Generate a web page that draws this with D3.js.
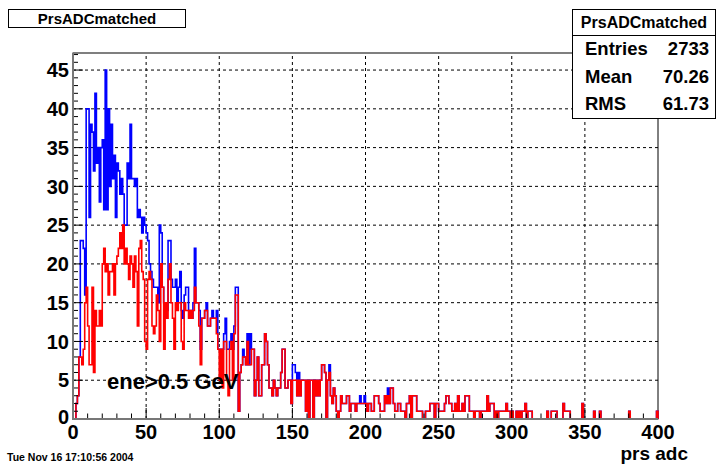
<!DOCTYPE html>
<html>
<head>
<meta charset="utf-8">
<script src="https://cdn.jsdelivr.net/npm/d3@7/dist/d3.min.js"></script>
<style>
  body { margin: 0; background: #fff; }
  svg { display: block; }
  text { font-family: "Liberation Sans", Arial, Helvetica, sans-serif; font-weight: bold; fill: #000; }
</style>
</head>
<body>
<svg id="chart" width="717" height="464"></svg>
<script>
// Histogram PrsADCmatched: 400 bins of width 1 on [0, 400]
const histName = "PrsADCmatched";
const xTitle = "prs adc";
const cutLabel = "ene>0.5 GeV";
const dateStamp = "Tue Nov 16 17:10:56 2004";
const statLabels = ["Entries", "Mean", "RMS"];
const statValues = ["2733", "70.26", "61.73"];
const xTickValues = [0, 50, 100, 150, 200, 250, 300, 350, 400];
const yTickValues = [0, 5, 10, 15, 20, 25, 30, 35, 40, 45];
const xRange = [0, 400];
const yMax = 47.2;

// all matched hits (blue)
const allCounts = [
  0,0,2,3,8,23,23,22,16,40,
  40,26,38,37,32,42,33,35,28,35,
  36,27,45,27,40,30,38,31,34,26,
  33,32,29,31,29,25,25,33,31,38,
  31,31,30,31,26,27,26,24,26,25,
  24,23,20,19,18,17,17,17,15,25,
  24,17,15,15,14,23,23,18,17,17,
  18,15,17,19,14,13,16,17,17,14,
  14,13,15,22,15,15,14,9,13,13,
  14,15,12,12,13,14,13,13,14,9,
  9,9,9,11,13,9,9,10,11,9,
  12,17,17,1,6,7,9,8,7,11,
  7,11,9,9,3,5,8,3,3,7,
  7,11,10,7,4,4,3,5,4,3,
  4,4,6,9,9,4,4,5,5,2,
  7,7,6,3,6,3,5,5,5,1,
  5,0,5,5,0,5,3,5,3,5,
  7,7,6,0,5,7,3,2,4,3,
  1,0,1,3,2,2,2,3,3,1,
  2,2,2,1,2,2,3,2,2,3,
  2,1,2,2,1,1,3,3,3,2,
  1,1,1,3,2,4,2,4,4,2,
  1,1,2,2,1,1,1,0,2,2,
  3,0,3,3,3,1,1,1,1,0,
  0,1,1,1,2,2,2,0,2,2,
  1,1,1,1,2,3,3,2,2,1,
  1,2,1,3,1,1,2,1,3,3,
  3,1,1,1,0,1,1,1,0,1,
  1,1,1,3,1,2,2,2,0,1,
  0,1,1,1,1,1,2,1,1,0,
  1,0,0,1,0,1,0,1,1,2,
  0,1,1,1,0,0,0,0,0,0,
  0,0,0,0,1,0,0,1,1,1,
  1,0,0,0,0,2,1,1,1,1,
  0,0,0,0,0,0,0,0,2,0,
  0,0,0,0,0,0,1,0,0,0,
  1,0,0,0,0,0,0,0,0,0,
  0,0,0,0,0,0,0,0,0,0,
  1,0,0,0,0,0,0,0,0,0,
  0,0,0,0,0,0,0,0,0,1
];

// hits with ene>0.5 GeV (red)
const cutCounts = [
  0,0,2,3,8,8,7,9,15,17,
  12,7,7,17,6,14,12,12,14,12,
  20,22,19,20,16,19,19,20,16,20,
  21,22,24,22,25,20,22,20,18,21,
  20,17,21,19,12,22,23,19,18,10,
  9,18,19,18,12,11,12,16,14,10,
  20,17,9,15,13,18,20,15,13,9,
  15,14,15,15,10,9,15,14,14,13,
  14,13,14,17,15,15,12,7,13,13,
  14,14,12,12,13,13,13,13,11,9,
  5,9,4,10,10,5,3,9,10,5,
  11,16,16,1,6,7,8,8,7,10,
  7,7,9,9,3,5,8,3,3,7,
  7,11,10,7,4,4,3,5,4,3,
  4,4,6,9,9,4,4,5,5,2,
  5,5,5,3,5,3,5,5,5,1,
  5,0,5,5,0,5,3,5,3,5,
  7,7,6,0,5,6,3,2,4,3,
  1,0,1,3,2,2,2,3,3,1,
  2,2,2,1,2,2,2,2,2,2,
  2,1,2,2,1,1,3,3,3,2,
  1,1,1,3,2,3,2,4,4,2,
  1,1,2,2,1,1,1,0,2,2,
  3,0,3,3,3,1,1,1,1,0,
  0,1,1,1,2,2,2,0,2,2,
  1,1,1,1,2,3,3,2,2,1,
  1,2,1,3,1,1,2,1,3,3,
  3,1,1,1,0,1,1,1,0,1,
  1,1,1,3,1,2,2,2,0,1,
  0,1,1,1,1,1,2,1,1,0,
  1,0,0,1,0,1,0,1,1,2,
  0,1,1,1,0,0,0,0,0,0,
  0,0,0,0,1,0,0,1,1,1,
  1,0,0,0,0,2,1,1,1,1,
  0,0,0,0,0,0,0,0,2,0,
  0,0,0,0,0,0,1,0,0,0,
  1,0,0,0,0,0,0,0,0,0,
  0,0,0,0,0,0,0,0,0,0,
  1,0,0,0,0,0,0,0,0,0,
  0,0,0,0,0,0,0,0,0,1
];

const frame = { left: 73, right: 658, top: 53, bottom: 419 };
const svg = d3.select("#chart");

const x = d3.scaleLinear().domain(xRange).range([frame.left, frame.right]);
const y = d3.scaleLinear().domain([0, yMax]).range([frame.bottom, frame.top]);

// dashed grid
const grid = svg.append("g").attr("stroke", "#000").attr("stroke-width", 1)
  .attr("stroke-dasharray", "3,3").attr("fill", "none");
xTickValues.filter(v => v > xRange[0] && v < xRange[1]).forEach(v => {
  grid.append("line").attr("x1", x(v)).attr("x2", x(v)).attr("y1", frame.bottom).attr("y2", frame.top);
});
yTickValues.filter(v => v > 0).forEach(v => {
  grid.append("line").attr("x1", frame.left).attr("x2", frame.right).attr("y1", y(v)).attr("y2", y(v));
});

// frame box
svg.append("rect")
  .attr("x", frame.left).attr("y", frame.top)
  .attr("width", frame.right - frame.left).attr("height", frame.bottom - frame.top)
  .attr("fill", "none").attr("stroke", "#000").attr("stroke-width", 1);

// histogram outlines
const bins = (counts) => {
  const pts = [[xRange[0], 0]];
  counts.forEach((c, i) => pts.push([xRange[0] + i, c]));
  pts.push([xRange[1], counts[counts.length - 1]]);
  pts.push([xRange[1], 0]);
  return pts;
};
const step = d3.line().x(d => x(d[0])).y(d => y(d[1])).curve(d3.curveStepAfter);

svg.append("path").attr("d", step(bins(allCounts)))
  .attr("fill", "none").attr("stroke", "#0000ff").attr("stroke-width", 1.6);
svg.append("path").attr("d", step(bins(cutCounts)))
  .attr("fill", "none").attr("stroke", "#ff0000").attr("stroke-width", 1.6);

// axes: ticks point into the frame
const yMinor = d3.range(1, Math.floor(yMax) + 1);
const yAxis = svg.append("g").attr("stroke", "#000").attr("stroke-width", 1);
yMinor.forEach(v => {
  const len = v % 5 === 0 ? 10 : 5;
  yAxis.append("line").attr("x1", frame.left).attr("x2", frame.left + len).attr("y1", y(v)).attr("y2", y(v));
});
const xMinor = d3.range(xRange[0] + 10, xRange[1], 10);
const xAxis = svg.append("g").attr("stroke", "#000").attr("stroke-width", 1);
xMinor.forEach(v => {
  const len = v % 50 === 0 ? 11 : 5.5;
  xAxis.append("line").attr("x1", x(v)).attr("x2", x(v)).attr("y1", frame.bottom).attr("y2", frame.bottom - len);
});
svg.append("line").attr("x1", frame.left).attr("x2", frame.left).attr("y1", frame.top).attr("y2", frame.bottom + 1)
  .attr("stroke", "#777").attr("stroke-width", 2);
svg.append("line").attr("x1", frame.left - 1).attr("x2", frame.right).attr("y1", frame.bottom).attr("y2", frame.bottom)
  .attr("stroke", "#777").attr("stroke-width", 2);

// tick labels
svg.append("g").selectAll("text").data(yTickValues).join("text")
  .attr("x", frame.left - 4).attr("y", d => y(d) - (d === 0 ? 2 : 0)).attr("dy", "0.36em")
  .attr("text-anchor", "end").attr("font-size", 20).text(d => d);
svg.append("g").selectAll("text").data(xTickValues).join("text")
  .attr("x", d => x(d)).attr("y", 439)
  .attr("text-anchor", "middle").attr("font-size", 20).text(d => d);

// axis title, cut label, date
svg.append("text").attr("x", 688).attr("y", 460).attr("text-anchor", "end")
  .attr("font-size", 19).text(xTitle);
svg.append("text").attr("x", 107).attr("y", 389).attr("font-size", 22).text(cutLabel);
svg.append("text").attr("x", 7).attr("y", 461).attr("font-size", 10.5).text(dateStamp);

// title box
svg.append("rect").attr("x", 8.5).attr("y", 9.5).attr("width", 177).attr("height", 18)
  .attr("fill", "#fff").attr("stroke", "#000").attr("stroke-width", 1);
svg.append("text").attr("x", 97).attr("y", 18.5).attr("dy", "0.36em")
  .attr("text-anchor", "middle").attr("font-size", 15).text(histName);

// statistics box
const stat = svg.append("g");
stat.append("rect").attr("x", 572.5).attr("y", 9.5).attr("width", 143).attr("height", 109)
  .attr("fill", "#fff").attr("stroke", "#000").attr("stroke-width", 1);
stat.append("line").attr("x1", 572.5).attr("x2", 715.5).attr("y1", 35.5).attr("y2", 35.5)
  .attr("stroke", "#000").attr("stroke-width", 1);
stat.append("text").attr("x", 644).attr("y", 22.5).attr("dy", "0.36em")
  .attr("text-anchor", "middle").attr("font-size", 16).text(histName);
const rowY = [48.5, 76, 103];
statLabels.forEach((lab, i) => {
  stat.append("text").attr("x", 585).attr("y", rowY[i]).attr("dy", "0.36em")
    .attr("font-size", 18.5).text(lab);
  stat.append("text").attr("x", 709).attr("y", rowY[i]).attr("dy", "0.36em")
    .attr("text-anchor", "end").attr("font-size", 18.5).text(statValues[i]);
});
</script>
</body>
</html>
